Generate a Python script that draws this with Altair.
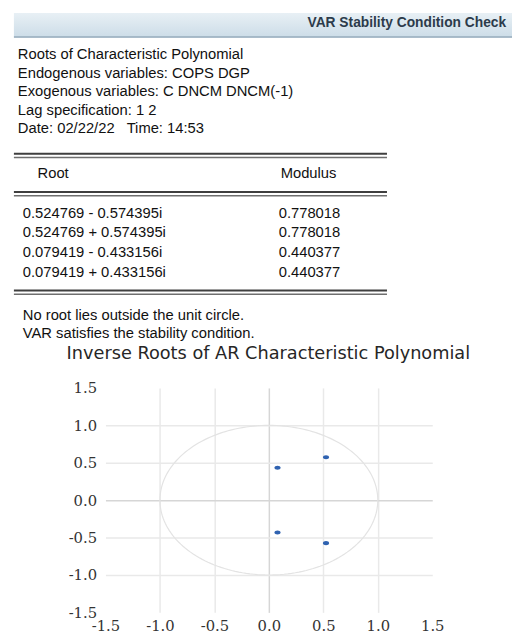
import altair as alt
import pandas as pd

# ---------------- data ----------------
header_title = "VAR Stability Condition Check"
info_lines = [
    "Roots of Characteristic Polynomial",
    "Endogenous variables: COPS DGP",
    "Exogenous variables: C DNCM DNCM(-1)",
    "Lag specification: 1 2",
    "Date: 02/22/22\u00a0\u00a0 Time: 14:53",
]
col_headers = ["Root", "Modulus"]
root_real = [0.524769, 0.524769, 0.079419, 0.079419]
root_imag = [-0.574395, 0.574395, -0.433156, 0.433156]
modulus = [0.778018, 0.778018, 0.440377, 0.440377]
notes = ["No root lies outside the unit circle.", "VAR satisfies the stability condition."]
chart_title = "Inverse Roots of AR Characteristic Polynomial"
axis_ticks = [-1.5, -1.0, -0.5, 0.0, 0.5, 1.0, 1.5]

root_text = [f"{r:.6f} {'-' if i < 0 else '+'} {abs(i):.6f}i" for r, i in zip(root_real, root_imag)]
mod_text = [f"{m:.6f}" for m in modulus]

# ---------------- layout (page pixels -> plot pixels) ----------------
OX, OY = 107, 389
W, H = 332, 228


def px(X):
    return X - OX


def py(Y):
    return Y - OY


one = pd.DataFrame({"a": [0]})
TXT = "Liberation Sans"
TXT_COLOR = "#111111"

layers = []

# header bar
layers.append(
    alt.Chart(one).mark_rect(
        color=alt.LinearGradient(
            gradient="linear", x1=0, y1=0, x2=0, y2=1,
            stops=[alt.GradientStop(color="#e8f0f5", offset=0),
                   alt.GradientStop(color="#cddde8", offset=1)],
        )
    ).encode(x=alt.value(px(14)), x2=alt.value(px(520)), y=alt.value(py(8)), y2=alt.value(py(32)))
)
layers.append(
    alt.Chart(one).mark_rule(color="#8ea6b8", strokeWidth=1.5).encode(
        x=alt.value(px(14)), x2=alt.value(px(520)), y=alt.value(py(32.5))
    )
)
layers.append(
    alt.Chart(one).mark_text(
        text=header_title, font=TXT, fontSize=14, fontWeight="bold", color="#2c3b4b",
        align="right", baseline="middle",
    ).encode(x=alt.value(px(514)), y=alt.value(py(18)))
)

# info lines
layers.append(
    alt.Chart(one).mark_text(
        text=info_lines, font=TXT, fontSize=15, color=TXT_COLOR, align="left",
        baseline="middle", lineHeight=18.8,
    ).encode(x=alt.value(px(18)), y=alt.value(py(50)))
)

# table double rules
for Y0 in (151, 190, 290):
    layers.append(
        alt.Chart(one).mark_rule(color="#3f3f3f", strokeWidth=2).encode(
            x=alt.value(px(14)), x2=alt.value(px(393)), y=alt.value(py(Y0))
        )
    )
    layers.append(
        alt.Chart(one).mark_rule(color="#6e6e6e", strokeWidth=1.5).encode(
            x=alt.value(px(14)), x2=alt.value(px(393)), y=alt.value(py(Y0 + 3.8))
        )
    )

# table header
layers.append(
    alt.Chart(one).mark_text(text=col_headers[0], font=TXT, fontSize=15, color=TXT_COLOR,
                             align="left", baseline="middle")
    .encode(x=alt.value(px(38)), y=alt.value(py(171)))
)
layers.append(
    alt.Chart(one).mark_text(text=col_headers[1], font=TXT, fontSize=15, color=TXT_COLOR,
                             align="left", baseline="middle")
    .encode(x=alt.value(px(285)), y=alt.value(py(171)))
)

# table rows
layers.append(
    alt.Chart(one).mark_text(text=root_text, font=TXT, fontSize=15, color=TXT_COLOR,
                             align="left", baseline="middle", lineHeight=20)
    .encode(x=alt.value(px(23)), y=alt.value(py(211)))
)
layers.append(
    alt.Chart(one).mark_text(text=mod_text, font=TXT, fontSize=15, color=TXT_COLOR,
                             align="left", baseline="middle", lineHeight=20)
    .encode(x=alt.value(px(283)), y=alt.value(py(211)))
)

# notes
layers.append(
    alt.Chart(one).mark_text(text=notes, font=TXT, fontSize=15, color=TXT_COLOR,
                             align="left", baseline="middle", lineHeight=18)
    .encode(x=alt.value(px(23)), y=alt.value(py(315)))
)

# chart title
layers.append(
    alt.Chart(one).mark_text(text=chart_title, font="DejaVu Sans", fontSize=18, color="#262626",
                             align="center", baseline="middle")
    .encode(x=alt.value(px(272.5)), y=alt.value(py(355)))
)

# ---------------- scatter ----------------
grid_op = {"condition": {"test": "abs(datum.value) > 1.4", "value": 0}, "value": 1}
grid_col = {"condition": {"test": "abs(datum.value) < 0.01", "value": "#d6d6d6"}, "value": "#e9e9e9"}
label_expr = "replace(format(datum.value, '.1f'), '\u2212', '-')"

x_axis = alt.Axis(values=axis_ticks, labelExpr=label_expr, grid=True, gridOpacity=grid_op, gridColor=grid_col,
                  gridWidth=1.5, domain=False, ticks=False, labelFont="DejaVu Serif", labelFontSize=15,
                  labelColor="#333333", labelPadding=6, labelFlush=False, title=None)
y_axis = alt.Axis(values=axis_ticks, labelExpr=label_expr, grid=True, gridOpacity=grid_op, gridColor=grid_col,
                  gridWidth=1.5, domain=False, ticks=False, labelFont="DejaVu Serif", labelFontSize=15,
                  labelColor="#333333", labelPadding=9, labelFlush=False, title=None)

xs = alt.Scale(domain=[-1.5, 1.5], nice=False, zero=False)
ys = alt.Scale(domain=[-1.5, 1.5], nice=False, zero=False)

circle = alt.Chart(alt.sequence(0, 362, 2, as_="t")).transform_calculate(
    cx="cos(datum.t * PI / 180)", cy="sin(datum.t * PI / 180)"
).mark_line(color="#e3e3e3", strokeWidth=1.2).encode(
    x=alt.X("cx:Q", scale=xs, axis=x_axis),
    y=alt.Y("cy:Q", scale=ys, axis=y_axis),
    order="t:Q",
)

pts_df = pd.DataFrame({"re": root_real, "im": root_imag})
points = alt.Chart(pts_df).mark_point(
    shape="M-1,0A1,0.65,0,1,0,1,0A1,0.65,0,1,0,-1,0Z", filled=True, opacity=1,
    color="#2f62b0", size=40,
).encode(x=alt.X("re:Q", scale=xs, axis=x_axis), y=alt.Y("im:Q", scale=ys, axis=y_axis))

chart = alt.layer(circle, points, *layers).properties(
    width=W, height=H,
    padding={"left": OX - 8, "top": OY - 8, "right": 512 - (OX - 8) - W, "bottom": 17},
    autosize=alt.AutoSizeParams(type="none"),
    background="white",
).configure_view(strokeWidth=0)

chart.save("out.html", embed_options={"renderer": "svg", "actions": False})
